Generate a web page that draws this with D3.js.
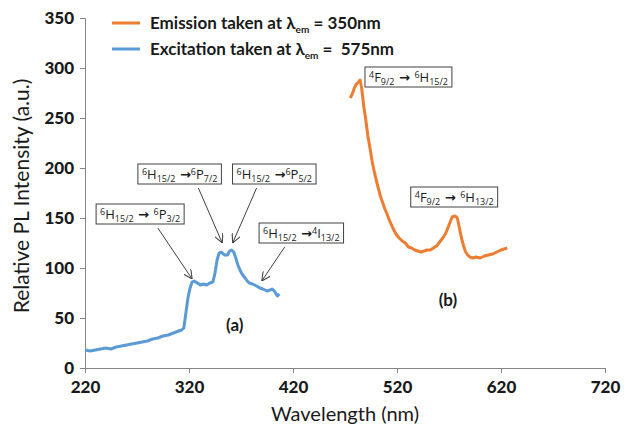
<!doctype html>
<html lang="en">
<head>
    <meta charset="utf-8">
    <title>PL spectra</title>
    <script src="https://cdn.jsdelivr.net/npm/d3@7"></script>
    <style>
        body { margin: 0; background: #fff; }
        svg { font-family: Lato, "Open Sans", sans-serif; }
        text { white-space: pre; }
    </style>
</head>
<body>
<svg></svg>
<script>
    var width = 627;
    var height = 436;

    // excitation spectrum (blue), monitored at 575nm
    var excitationWl = [220, 225, 230, 235, 240, 245, 250, 255, 260, 265, 270, 275, 280, 285, 290, 295, 300, 305,
        310, 313, 315, 317, 319, 321, 323, 325, 328, 331, 334, 337, 340, 343, 345, 347, 349, 351, 354, 357,
        359, 361, 363, 365, 367, 369, 371, 374, 376, 378, 381, 385, 388, 391, 395, 398, 400, 402, 405, 407];
    var excitationVal = [18, 17, 18, 19, 20, 19, 21, 22, 23, 24, 25, 26, 27, 29, 30, 32, 33, 35,
        37, 38, 40, 55, 70, 80, 86, 87, 85, 83, 84, 83, 85, 86, 95, 108, 115, 116, 113, 113,
        117, 118, 116, 110, 103, 98, 94, 90, 87, 85, 84, 82, 80, 79, 77, 78, 79, 77, 72, 74];

    // emission spectrum (orange), excited at 350nm
    var emissionWl = [475, 477, 479, 481, 483, 484.5, 486, 488, 490, 492, 494, 496, 498, 500, 502, 504, 506, 508,
        510, 513, 516, 519, 522, 525, 528, 531, 534, 537, 540, 543, 546, 549, 552, 555, 558, 561, 564, 567,
        570, 573, 576, 578, 580, 582, 584, 586, 588, 590, 593, 596, 600, 604, 608, 612, 616, 620, 623, 626];
    var emissionVal = [270, 274, 280, 284, 286, 288, 280, 262, 248, 232, 220, 207, 197, 188, 180, 172, 166, 160,
        155, 147, 140, 134, 130, 127, 125, 121, 120, 118, 117, 116, 117, 118, 118, 120, 122, 126, 130, 135,
        143, 151, 152, 150, 140, 130, 122, 116, 113, 111, 110, 111, 110, 112, 113, 114, 116, 118, 119, 120];

    var xTicks = [220, 320, 420, 520, 620, 720];
    var yTicks = [0, 50, 100, 150, 200, 250, 300, 350];

    // transition labels: [text parts], box centre and arrow in data units
    var annotations = [
        { parts: [["6", "sup"], ["H", ""], ["15/2", "sub"], [" \u2192 ", "arr"], ["6", "sup"], ["P", ""], ["3/2", "sub"]],
          at: [273, 154], arrow: [[290, 140], [323, 89]] },
        { parts: [["6", "sup"], ["H", ""], ["15/2", "sub"], [" \u2192", "arr"], ["6", "sup"], ["P", ""], ["7/2", "sub"]],
          at: [311, 194], arrow: [[329, 180], [352, 125]] },
        { parts: [["6", "sup"], ["H", ""], ["15/2", "sub"], [" \u2192", "arr"], ["6", "sup"], ["P", ""], ["5/2", "sub"]],
          at: [402, 194], arrow: [[385, 180], [362, 125]] },
        { parts: [["6", "sup"], ["H", ""], ["15/2", "sub"], [" \u2192", "arr"], ["4", "sup"], ["I", ""], ["13/2", "sub"]],
          at: [428, 135], arrow: [[412, 121], [390, 87]] },
        { parts: [["4", "sup"], ["F", ""], ["9/2", "sub"], [" \u2192 ", "arr"], ["6", "sup"], ["H", ""], ["15/2", "sub"]],
          at: [531, 291], arrow: null },
        { parts: [["4", "sup"], ["F", ""], ["9/2", "sub"], [" \u2192 ", "arr"], ["6", "sup"], ["H", ""], ["13/2", "sub"]],
          at: [575, 171], arrow: null }
    ];
    var panelLabels = [["(a)", 364, 43], ["(b)", 569, 68]];

    var orange = "#ed7d31";
    var blue = "#5b9bd5";
    var axisGrey = "#868686";

    var xScale = d3.scaleLinear().domain([220, 720]).range([85, 605]);
    var yScale = d3.scaleLinear().domain([0, 350]).range([368, 18]);

    var svg = d3.select("svg").attr("width", width).attr("height", height);

    svg.append("defs").append("marker")
        .attr("id", "arr")
        .attr("viewBox", "0 0 10 10")
        .attr("refX", 10).attr("refY", 5)
        .attr("markerWidth", 9).attr("markerHeight", 9)
        .attr("markerUnits", "userSpaceOnUse")
        .attr("orient", "auto")
        .append("path")
        .attr("d", "M0,0 L10,5 L0,10")
        .attr("fill", "none")
        .attr("stroke", "#404040")
        .attr("stroke-width", 1.2);

    // axes
    var xAxis = d3.axisBottom(xScale).tickValues(xTicks).tickSize(5).tickPadding(8);
    var yAxis = d3.axisLeft(yScale).tickValues(yTicks).tickSize(5).tickPadding(6);

    var gx = svg.append("g")
        .attr("transform", "translate(0," + yScale(0) + ")")
        .call(xAxis);
    var gy = svg.append("g")
        .attr("transform", "translate(" + xScale(220) + ",0)")
        .call(yAxis);

    [gx, gy].forEach(function (g) {
        g.selectAll("path, line").attr("stroke", axisGrey);
        g.selectAll("text")
            .attr("font-family", "Lato, sans-serif")
            .attr("font-size", 17)
            .attr("font-weight", "900")
            .attr("fill", "#1a1a1a");
    });

    svg.append("text")
        .attr("transform", "translate(29," + yScale(172) + ") rotate(-90)")
        .attr("text-anchor", "middle")
        .attr("font-size", 21)
        .attr("fill", "#1a1a1a")
        .text("Relative PL Intensity (a.u.)");

    svg.append("text")
        .attr("x", xScale(470))
        .attr("y", 421)
        .attr("text-anchor", "middle")
        .attr("font-size", 20)
        .attr("fill", "#1a1a1a")
        .text("Wavelength (nm)");

    // spectra
    var line = d3.line()
        .x(function (d) { return xScale(d[0]); })
        .y(function (d) { return yScale(d[1]); });

    svg.append("path")
        .datum(d3.zip(excitationWl, excitationVal))
        .attr("d", line)
        .attr("fill", "none")
        .attr("stroke", blue)
        .attr("stroke-width", 3)
        .attr("stroke-linejoin", "round");

    svg.append("path")
        .datum(d3.zip(emissionWl, emissionVal))
        .attr("d", line)
        .attr("fill", "none")
        .attr("stroke", orange)
        .attr("stroke-width", 3)
        .attr("stroke-linejoin", "round");

    // legend
    var legend = [
        { color: orange, pre: "Emission taken at \u03bb", post: " = 350nm", y: 23 },
        { color: blue, pre: "Excitation taken at \u03bb", post: " =  575nm", y: 49 }
    ];
    legend.forEach(function (l) {
        svg.append("line")
            .attr("x1", 112).attr("x2", 140)
            .attr("y1", l.y).attr("y2", l.y)
            .attr("stroke", l.color).attr("stroke-width", 3);
        var t = svg.append("text")
            .attr("x", 150).attr("y", l.y + 6)
            .attr("font-size", 17)
            .attr("font-weight", "bold")
            .attr("fill", "#1a1a1a");
        t.append("tspan").text(l.pre);
        t.append("tspan").attr("font-size", 10).attr("dy", 4).text("em");
        t.append("tspan").attr("dy", -4).text(l.post);
    });

    // annotation arrows
    annotations.forEach(function (a) {
        if (!a.arrow) return;
        svg.append("line")
            .attr("x1", xScale(a.arrow[0][0])).attr("y1", yScale(a.arrow[0][1]))
            .attr("x2", xScale(a.arrow[1][0])).attr("y2", yScale(a.arrow[1][1]))
            .attr("stroke", "#404040")
            .attr("stroke-width", 1)
            .attr("marker-end", "url(#arr)");
    });

    // annotation boxes
    annotations.forEach(function (a) {
        var g = svg.append("g");
        var t = g.append("text")
            .attr("x", xScale(a.at[0]))
            .attr("y", yScale(a.at[1]) + 5)
            .attr("text-anchor", "middle")
            .attr("font-family", "'Open Sans', sans-serif")
            .attr("font-size", 13)
            .attr("fill", "#1a1a1a");
        var shift = 0;
        a.parts.forEach(function (p) {
            var s = t.append("tspan").text(p[0]);
            var target = p[1] === "sup" ? -4 : p[1] === "sub" ? 3 : 0;
            s.attr("dy", target - shift);
            if (p[1] === "sup" || p[1] === "sub") s.attr("font-size", 9);
            if (p[1] === "arr") s.attr("font-family", "'DejaVu Sans', sans-serif").attr("font-weight", "bold").attr("font-size", 13);
            shift = target;
        });
        var bb = t.node().getBBox();
        g.insert("rect", "text")
            .attr("x", bb.x - 4).attr("y", yScale(a.at[1]) - 10)
            .attr("width", bb.width + 8).attr("height", 20)
            .attr("fill", "#fff")
            .attr("stroke", "#404040")
            .attr("stroke-width", 1);
    });

    panelLabels.forEach(function (p) {
        svg.append("text")
            .attr("x", xScale(p[1])).attr("y", yScale(p[2]) + 6)
            .attr("text-anchor", "middle")
            .attr("font-size", 17)
            .attr("font-weight", "bold")
            .attr("fill", "#1a1a1a")
            .text(p[0]);
    });
</script>
</body>
</html>
